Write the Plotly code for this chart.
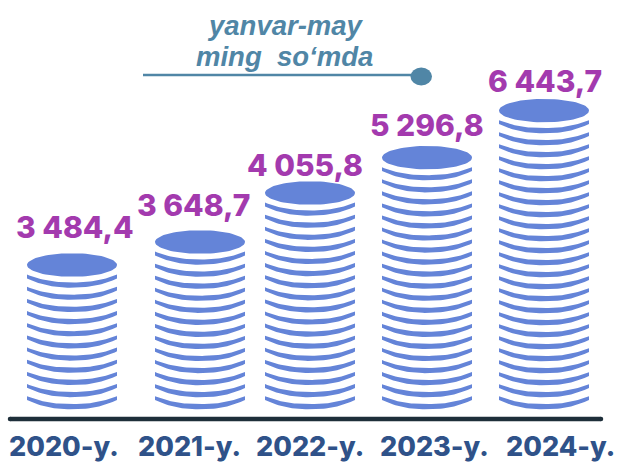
import numpy as np
import plotly.graph_objects as go

# Data
years = ["2020-y.", "2021-y.", "2022-y.", "2023-y.", "2024-y."]
values = [3484.4, 3648.7, 4055.8, 5296.8, 6443.7]
coin_counts = [11, 13, 17, 20, 24]
title_lines = ["yanvar-may", "ming\u00a0\u00a0so\u2018mda"]

# Layout constants (pixel-like axes)
W, H = 622, 463
column_x = [72, 200, 310, 427, 544]
value_label_x = [75, 193.5, 304.5, 427, 545]
value_label_y = [227, 205, 165, 125, 81]
year_label_x = [64, 189, 310, 434, 560]
coin_pitch = [12.16, 12.05, 12.1, 12.05, 12.0]
BASE = 409.3
HALF_W = 45
COIN = "#6484D8"
MAGENTA = "#A33AAE"
NAVY = "#2F5289"
TEAL = "#5086A6"
FONT = "Inter, 'Liberation Sans', Arial, sans-serif"


def fmt(v):
    return f"{v:,.1f}".replace(",", " ").replace(".", ",")


def column_outline(cx, n, pitch):
    xs, ys = [], []
    u = np.linspace(-HALF_W, HALF_W, 41)
    shape = 1 - np.abs(u / HALF_W) ** 2.3
    arc = 9.3 * shape
    for i in range(n):
        bottom = BASE - i * pitch
        lower = bottom - 9.3 + arc
        upper = lower - (3.8 + 1.4 * shape)
        xs += list(cx + u) + list(cx + u[::-1]) + [cx + u[0], None]
        ys += list(lower) + list(upper[::-1]) + [lower[0], None]
    cy = BASE - (n - 1) * pitch - 22.7
    t = np.linspace(0, 2 * np.pi, 81)
    xs += list(cx + HALF_W * np.cos(t))
    ys += list(cy + 11.7 * np.sin(t))
    return xs, ys


fig = go.Figure()
for cx, n, p, yr in zip(column_x, coin_counts, coin_pitch, years):
    x, y = column_outline(cx, n, p)
    fig.add_trace(go.Scatter(x=x, y=y, mode="lines", fill="toself", fillcolor=COIN,
                             line=dict(width=0, color=COIN), name=yr,
                             hoverinfo="skip", showlegend=False))

# Baseline
fig.add_trace(go.Scatter(x=[10, 601], y=[419, 419], mode="lines+markers",
                         line=dict(color="#1E2F3A", width=4.5),
                         marker=dict(size=4.5, color="#1E2F3A"),
                         hoverinfo="skip", showlegend=False))
# Title leader
fig.add_trace(go.Scatter(x=[143, 412], y=[75, 75], mode="lines",
                         line=dict(color=TEAL, width=2.6),
                         hoverinfo="skip", showlegend=False))
fig.add_shape(type="circle", xref="x", yref="y", x0=410.5, x1=432, y0=67.5, y1=85.5,
              fillcolor=TEAL, line=dict(width=0))

ann = []
for x, y, v in zip(value_label_x, value_label_y, values):
    ann.append(dict(x=x, y=y, text=fmt(v),
                    font=dict(size=30, color=MAGENTA, family=FONT, weight=800)))
for x, yr in zip(year_label_x, years):
    ann.append(dict(x=x, y=446, text=yr,
                    font=dict(size=27, color=NAVY, family=FONT, weight=800)))
for x, y, t in zip([285, 284.5], [25, 56], title_lines):
    ann.append(dict(x=x, y=y, text=f"<b><i>{t}</i></b>",
                    font=dict(size=27.5, color=TEAL, family="'Liberation Sans', Arial, sans-serif")))
for a in ann:
    a.update(xref="x", yref="y", showarrow=False, xanchor="center", yanchor="middle")

fig.update_layout(
    width=W, height=H, margin=dict(l=0, r=0, t=0, b=0),
    paper_bgcolor="white", plot_bgcolor="white", showlegend=False, annotations=ann,
    xaxis=dict(range=[0, W], visible=False, fixedrange=True),
    yaxis=dict(range=[H, 0], visible=False, fixedrange=True),
)
fig.write_html("out.html", config=dict(displayModeBar=False),
               post_script="document.body.style.margin='0';document.body.style.overflow='hidden';")
